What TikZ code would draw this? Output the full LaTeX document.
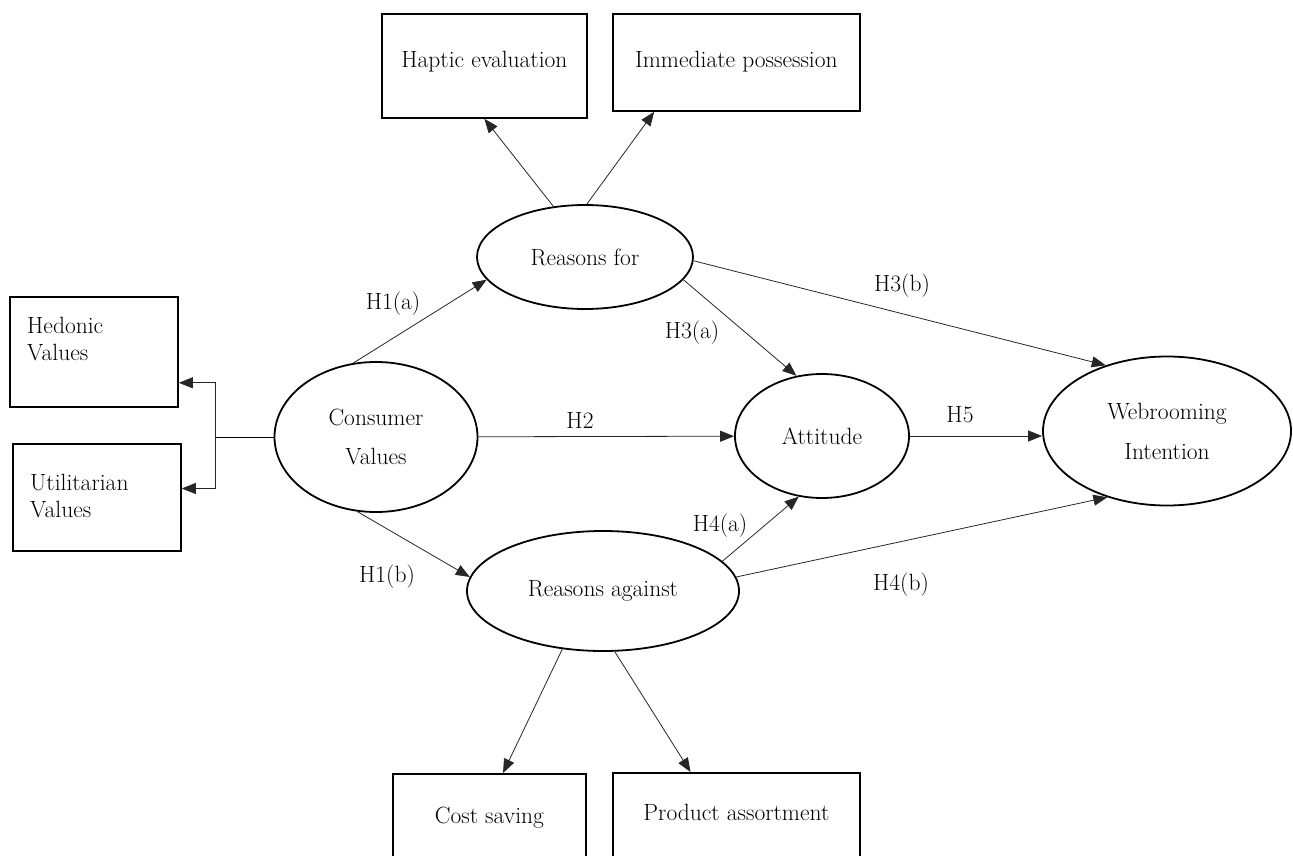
\documentclass[tikz,border=0pt]{standalone}
\usetikzlibrary{arrows.meta,shapes.geometric}

\begin{document}
\begin{tikzpicture}[
  x=1pt, y=-1pt,
  font=\fontsize{23.5}{27}\selectfont,
  box/.style={draw, line width=1.8pt, inner sep=0pt, anchor=north west},
  boxlbl/.style={anchor=north west, align=left, inner sep=0pt,
                 font=\fontsize{23.5}{27}\selectfont},
  latent/.style={draw, ellipse, line width=1.8pt, inner sep=0pt, align=center},
  link/.style={-{Triangle[length=14pt,width=11pt]}, line width=0.8pt, draw=black!85},
  hyp/.style={anchor=base, inner sep=0pt}
]
\useasboundingbox (0,0) rectangle (1293,856);
\clip (0,0) rectangle (1293,856);

% latent constructs
\node[latent, minimum width=203pt, minimum height=150pt,
      font=\fontsize{23.5}{39}\selectfont] (cons) at (376,437) {Consumer\\Values};
\node[latent, minimum width=216pt, minimum height=104pt] (rfor) at (585,257) {Reasons for};
\node[latent, minimum width=272pt, minimum height=120pt] (ragn) at (603,591) {Reasons against};
\node[latent, minimum width=174pt, minimum height=124pt] (att) at (822,436) {Attitude};
\node[latent, minimum width=248pt, minimum height=149pt,
      font=\fontsize{23.5}{40}\selectfont] (web) at (1167,431) {Webrooming\\Intention};

% indicator boxes
\node[box, minimum width=205pt, text height=54pt, text depth=50pt] (haptic) at (381,13) {Haptic evaluation};
\node[box, minimum width=247pt, text height=54pt, text depth=43pt] (immed) at (612,13) {Immediate possession};
\node[box, minimum width=193pt, text height=50pt, text depth=50pt] (cost) at (392,773) {Cost saving};
\node[box, minimum width=247pt, text height=48pt, text depth=52pt] (prod) at (612,772) {Product assortment};
\node[box, minimum width=168pt, minimum height=110pt,
      label={[boxlbl, xshift=18pt, yshift=-21pt]north west:Hedonic\\Values}] (hed) at (9,296) {};
\node[box, minimum width=168pt, minimum height=107pt,
      label={[boxlbl, xshift=18pt, yshift=-31pt]north west:Utilitarian\\Values}] (utl) at (12,443) {};

% value split
\coordinate (split) at ([xshift=-58pt]cons.west);
\draw[line width=0.8pt] (cons.west) -- (split);
\draw[link] (split) |- (hed.340);
\draw[link] (split) |- (utl.6);

% paths
\draw[link] (cons.107) -- (rfor.193);
\draw[link] (cons.256) -- (ragn.174);
\draw[link] (cons) -- (att);
\draw[link] (rfor.347) -- (att.113);
\draw[link] (rfor.358) -- (web.133);
\draw[link] (att.east) -- (att.east -| web.west);
\draw[link] (ragn.14) -- (att.249);
\draw[link] (ragn.6) -- (web.228);
\draw[link] (rfor.122) -- (haptic.south);
\draw[link] (rfor.88) -- (immed.211);
\draw[link] (ragn.235) -- (cost.75);
\draw[link] (ragn.281) -- (prod.132);

% hypotheses
\node[hyp] (h1a) at (393,309) {H1(a)};
\node[hyp] (h1b) at (387,582) {H1(b)};
\node[hyp] (h2) at (580,428) {H2};
\node[hyp] (h3a) at (692,338) {H3(a)};
\node[hyp] (h3b) at (902,291) {H3(b)};
\node[hyp] (h4a) at (720,531) {H4(a)};
\node[hyp] (h4b) at (901,590) {H4(b)};
\node[hyp] (h5) at (960,422) {H5};

\end{tikzpicture}
\end{document}
